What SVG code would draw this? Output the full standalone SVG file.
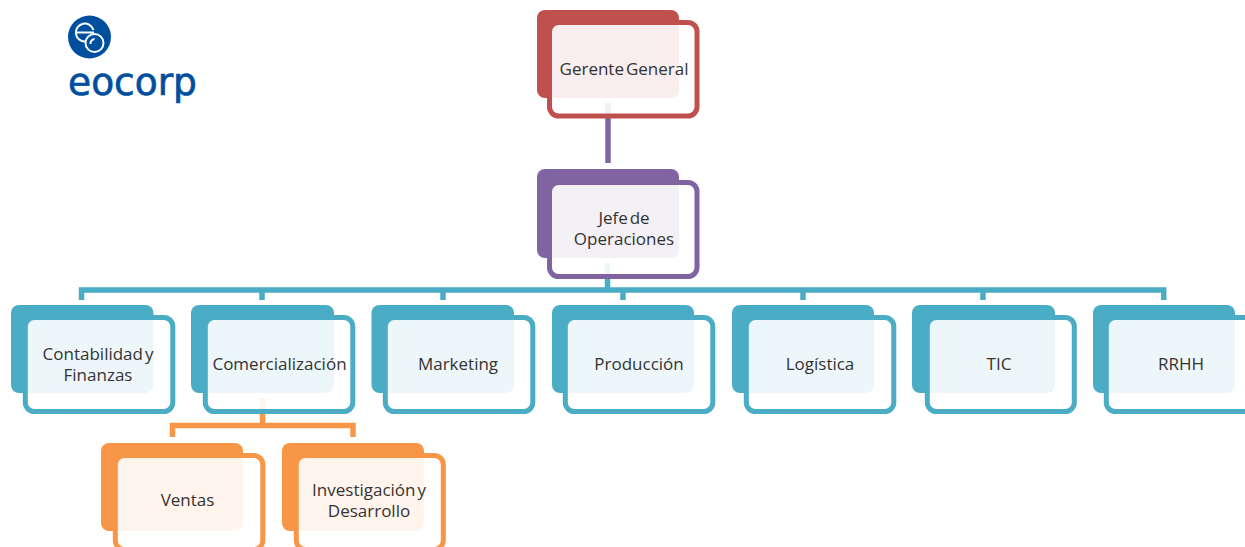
<svg xmlns="http://www.w3.org/2000/svg" width="1245" height="547" viewBox="0 0 1245 547">
<style>
text{font-family:"Open Sans","Noto Sans","Liberation Sans",sans-serif;font-size:17px;fill:#333;text-anchor:middle;word-spacing:-2.500px}
.card{fill:#fff;fill-opacity:.9;stroke-width:5}
.conn{fill:none;stroke-width:5.500}
.red .back{fill:#C0504D}.red .card{stroke:#C0504D}
.pur .back{fill:#8064A2}.pur .card{stroke:#8064A2}
.blu .back{fill:#4BACC6}.blu .card{stroke:#4BACC6}
.org .back{fill:#F79646}.org .card{stroke:#F79646}
</style>
<rect width="1245" height="547" fill="#fff"/>
<g id="logo">
<circle cx="89.500" cy="37" r="21.500" fill="#004F9F"/>
<g fill="none" stroke="#fff" stroke-width="2">
<path d="M77 32.500H94"/>
<path d="M93.500 30a9 9 0 1 0-8 11.500"/>
<circle cx="94.500" cy="43" r="9"/>
<path d="M90.500 44a4.500 4.500 0 0 1 4-5"/>
</g>
<text x="132.500" y="95" style="font-family:'DejaVu Sans',sans-serif;font-size:37.500px;fill:#004F9F;stroke:#004F9F;stroke-width:.7;word-spacing:0">eocorp</text>
</g>
<g id="connectors">
<path class="conn" stroke="#8064A2" d="M608 103V163"/>
<path class="conn" stroke="#4BACC6" d="M607.500 263V290M81.500 300V290H1163.700V300M262 290V300M443 290V300M623 290V300M803 290V300M983 290V300"/>
<path class="conn" stroke="#F79646" d="M262.500 398V425.500M172.500 437V425.500H353V437"/>
</g>
<g id="gerente-general" class="red">
<rect class="back" x="537" y="10" width="142" height="88" rx="8"/>
<rect class="card" x="549.500" y="22.500" width="147.500" height="93.500" rx="9"/>
<text x="624" y="75">Gerente General</text>
</g>
<g id="jefe-operaciones" class="pur">
<rect class="back" x="537" y="169" width="142" height="89" rx="8"/>
<rect class="card" x="549.500" y="182.500" width="147.500" height="94" rx="9"/>
<text x="624" y="224">Jefe de</text>
<text x="624" y="245">Operaciones</text>
</g>
<g id="contabilidad" class="blu">
<rect class="back" x="11" y="305" width="142.500" height="88" rx="8"/>
<rect class="card" x="25.300" y="317.500" width="147.500" height="94" rx="9"/>
<text x="98" y="360">Contabilidad y</text>
<text x="98" y="381">Finanzas</text>
</g>
<g id="comercializacion" class="blu">
<rect class="back" x="191" y="305" width="143" height="88" rx="8"/>
<rect class="card" x="205.300" y="317.500" width="147.500" height="94" rx="9"/>
<text x="279.500" y="370">Comercialización</text>
</g>
<g id="marketing" class="blu">
<rect class="back" x="371.500" y="305" width="142.500" height="88" rx="8"/>
<rect class="card" x="385.300" y="317.500" width="147.500" height="94" rx="9"/>
<text x="458" y="370">Marketing</text>
</g>
<g id="produccion" class="blu">
<rect class="back" x="552" y="305" width="142" height="88" rx="8"/>
<rect class="card" x="565.300" y="317.500" width="147.500" height="94" rx="9"/>
<text x="639" y="370">Producción</text>
</g>
<g id="logistica" class="blu">
<rect class="back" x="732" y="305" width="142" height="88" rx="8"/>
<rect class="card" x="746.300" y="317.500" width="147.500" height="94" rx="9"/>
<text x="820" y="370">Logística</text>
</g>
<g id="tic" class="blu">
<rect class="back" x="912" y="305" width="143" height="88" rx="8"/>
<rect class="card" x="927.300" y="317.500" width="147" height="94" rx="9"/>
<text x="999" y="370">TIC</text>
</g>
<g id="rrhh" class="blu">
<rect class="back" x="1093" y="305" width="142" height="88" rx="8"/>
<rect class="card" x="1106.300" y="317.500" width="147.500" height="94" rx="9"/>
<text x="1181" y="370">RRHH</text>
</g>
<g id="ventas" class="org">
<rect class="back" x="101" y="443" width="142" height="88" rx="8"/>
<rect class="card" x="115.300" y="455.500" width="147.500" height="94" rx="9"/>
<text x="187.500" y="506">Ventas</text>
</g>
<g id="investigacion" class="org">
<rect class="back" x="282" y="443" width="142" height="88" rx="8"/>
<rect class="card" x="296.300" y="455.500" width="147" height="94" rx="9"/>
<text x="369" y="496">Investigación y</text>
<text x="369" y="517">Desarrollo</text>
</g>
</svg>
